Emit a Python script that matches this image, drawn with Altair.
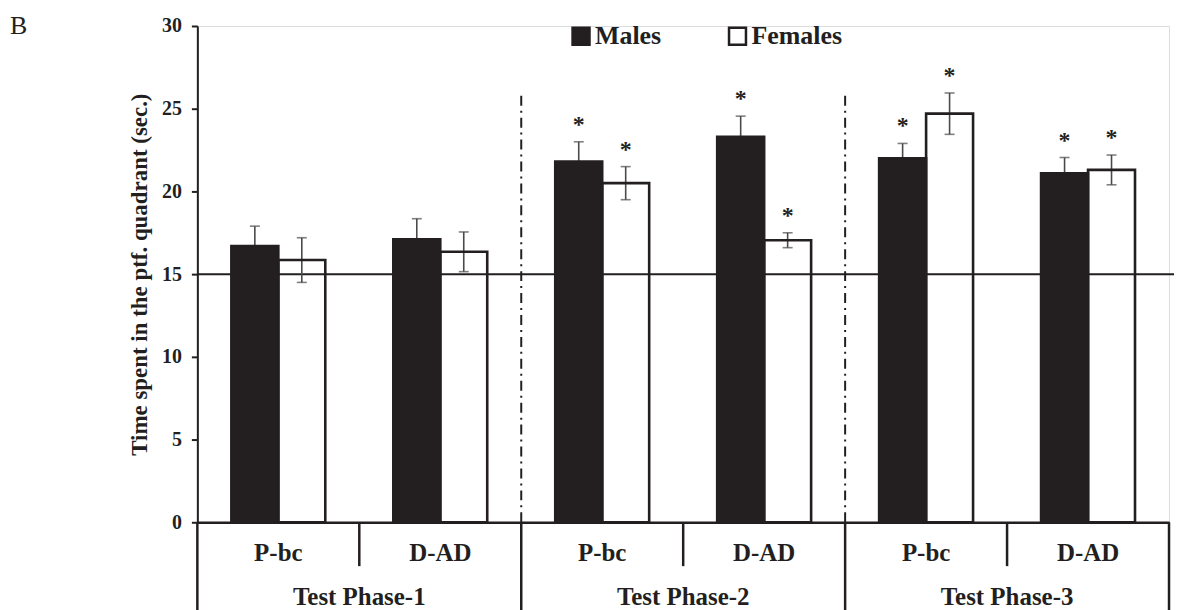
import altair as alt
import pandas as pd

# ---------------- data ----------------
panel_label = ["B"]
phases = ["Test Phase-1", "Test Phase-2", "Test Phase-3"]
conditions = ["P-bc", "D-AD"]
groups = ["Males", "Females"]
males_mean = [16.7, 17.1, 21.8, 23.3, 22.0, 21.1]
males_err = [1.2, 1.25, 1.2, 1.25, 0.9, 0.95]
females_mean = [15.85, 16.35, 20.5, 17.05, 24.7, 21.3]
females_err = [1.35, 1.2, 1.0, 0.45, 1.25, 0.9]
males_sig = [False, False, True, True, True, True]
females_sig = [False, False, True, True, True, True]
chance_level = [15]
divider_top = [26]
y_ticks = [0, 5, 10, 15, 20, 25, 30]
y_title = "Time spent in the ptf. quadrant (sec.)"

INK = "#231f20"
ERR = "#4a4a4a"
FONT = "Liberation Serif"
W, H = 975, 498

rows = []
cat_rows = []
for i, ph in enumerate(phases):
    for j, cond in enumerate(conditions):
        k = i * len(conditions) + j
        key = f"{ph}|{cond}"
        cat_rows.append({"key": key, "phase": ph, "cond": cond})
        for g, means, errs, sig in (
            ("Males", males_mean, males_err, males_sig),
            ("Females", females_mean, females_err, females_sig),
        ):
            rows.append({
                "key": key, "phase": ph, "cond": cond, "group": g,
                "mean": means[k], "lo": means[k] - errs[k], "hi": means[k] + errs[k],
                "star": "*" if sig[k] else "",
            })
df = pd.DataFrame(rows)
cats = pd.DataFrame(cat_rows)
keys = list(cats["key"])
phase_df = pd.DataFrame({"phase": phases})
div_df = pd.DataFrame({"phase": phases[1:], "y0": 0, "y1": divider_top[0]})
chance_df = pd.DataFrame({"level": chance_level})
panel_df = pd.DataFrame({"label": panel_label})

# ---------------- scales / axes ----------------
y_scale = alt.Scale(domain=[0, 30], nice=False, zero=True)
Y_AXIS = alt.Axis(values=y_ticks, grid=False, domainColor=INK, domainWidth=2,
                  tickColor=INK, tickWidth=2, tickSize=6, labelFont=FONT,
                  labelFontWeight="bold", labelFontSize=20, labelColor=INK,
                  labelPadding=10, titleFont=FONT, titleFontWeight="bold",
                  titleFontSize=23, titleColor=INK, titlePadding=10, format="d")


def bar_scale():
    return alt.Scale(type="band", domain=keys, paddingInner=0.42, paddingOuter=0.21)


def cat_scale():
    return alt.Scale(type="band", domain=keys, paddingInner=0, paddingOuter=0)


def phase_scale():
    return alt.Scale(type="band", domain=phases, paddingInner=0, paddingOuter=0)


def xbar(**kw):
    return alt.X("key:N", sort=keys, scale=bar_scale(), axis=None, **kw)


def xoff(**kw):
    return alt.XOffset("group:N", sort=groups,
                       scale=alt.Scale(type="band", domain=groups, paddingInner=0,
                                       paddingOuter=0), **kw)


def yq(field):
    return alt.Y(field, scale=y_scale, axis=Y_AXIS, title=y_title)


base = alt.Chart(df)

chance = alt.Chart(chance_df).mark_rule(color=INK, strokeWidth=2).encode(
    y=yq("level:Q"), x=alt.value(0), x2=alt.value(W + 9))

dividers = alt.Chart(div_df).mark_rule(color=INK, strokeWidth=2,
                                       strokeDash=[10, 5, 2, 5]).encode(
    x=alt.X("phase:N", sort=phases, bandPosition=0, scale=phase_scale(), axis=None),
    y=yq("y0:Q"), y2="y1:Q")

err_rules = base.mark_rule(color=ERR, strokeWidth=1.6).encode(
    x=xbar(), xOffset=xoff(), y=yq("lo:Q"), y2="hi:Q")

err_caps_hi = base.mark_tick(orient="horizontal", size=10, thickness=1.6, color=ERR).encode(
    x=xbar(), xOffset=xoff(), y=yq("hi:Q"))
err_caps_lo = base.mark_tick(orient="horizontal", size=10, thickness=1.6, color=ERR).encode(
    x=xbar(), xOffset=xoff(), y=yq("lo:Q"))

bars = base.mark_bar(stroke=INK, strokeWidth=2.6).encode(
    x=alt.X("key:N", sort=keys, scale=bar_scale(),
            axis=alt.Axis(labels=False, ticks=False, title=None, domainColor=INK,
                          domainWidth=2.5, grid=False)),
    xOffset=xoff(),
    y=yq("mean:Q"),
    fill=alt.Fill("group:N", sort=groups,
                  scale=alt.Scale(domain=groups, range=[INK, "transparent"]),
                  legend=alt.Legend(orient="none", legendX=372, legendY=-3,
                                    direction="horizontal", title=None,
                                    symbolType="square", symbolSize=289,
                                    symbolStrokeColor=INK, symbolStrokeWidth=2.5,
                                    labelFont=FONT, labelFontWeight="bold",
                                    labelFontSize=26, labelColor=INK,
                                    labelOffset=1, columnPadding=62, padding=0)),
)

stars = base.mark_text(font=FONT, fontSize=24, fontWeight="bold", color=INK,
                       baseline="alphabetic", dy=-10).encode(
    x=xbar(), xOffset=xoff(), y=yq("hi:Q"), text="star:N")

cat_labels = alt.Chart(cats).mark_text(font=FONT, fontWeight="bold", fontSize=25,
                                       color=INK, baseline="alphabetic").encode(
    x=alt.X("key:N", sort=keys, scale=cat_scale(), axis=None),
    y=alt.value(H + 39), text="cond:N")

phase_labels = alt.Chart(phase_df).mark_text(font=FONT, fontWeight="bold", fontSize=25,
                                             color=INK, baseline="alphabetic").encode(
    x=alt.X("phase:N", sort=phases, scale=phase_scale(), axis=None),
    y=alt.value(H + 83), text="phase:N")

short_seps = alt.Chart(cats[cats["cond"] == conditions[-1]]).mark_rule(
    color=INK, strokeWidth=2.5).encode(
    x=alt.X("key:N", sort=keys, bandPosition=0, scale=cat_scale(), axis=None),
    y=alt.value(H), y2=alt.value(H + 44))

long_seps = alt.Chart(phase_df).mark_rule(color=INK, strokeWidth=2.5).encode(
    x=alt.X("phase:N", sort=phases, bandPosition=0, scale=phase_scale(), axis=None),
    y=alt.value(H), y2=alt.value(H + 130))

end_sep = alt.Chart(phase_df.tail(1)).mark_rule(color=INK, strokeWidth=2.5).encode(
    x=alt.X("phase:N", sort=phases, bandPosition=1, scale=phase_scale(), axis=None),
    y=alt.value(H), y2=alt.value(H + 130))

panel = alt.Chart(panel_df).mark_text(font=FONT, fontSize=26, color=INK, align="left",
                                      baseline="alphabetic").encode(
    x=alt.value(-188), y=alt.value(8), text="label:N")

chart = alt.layer(
    chance, dividers, err_rules, err_caps_hi, err_caps_lo, bars, stars,
    cat_labels, phase_labels, short_seps, long_seps, end_sep, panel,
).resolve_scale(x="independent", xOffset="independent").properties(
    width=W, height=H,
    autosize=alt.AutoSizeParams(type="none"),
    padding={"left": 190, "top": 17, "right": 5, "bottom": 95},
).configure_view(stroke=None).configure(background="white")

chart.save("out.html", embed_options={"renderer": "svg", "actions": False})
